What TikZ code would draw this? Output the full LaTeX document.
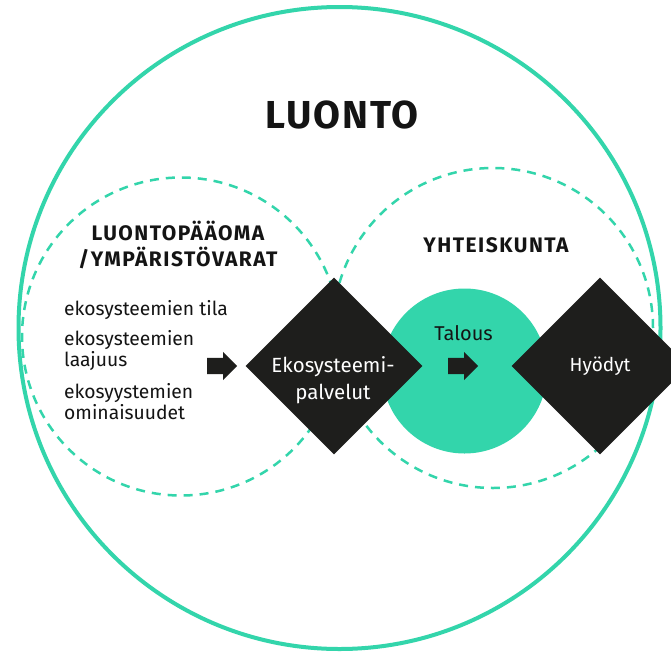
\documentclass[tikz,border=0pt]{standalone}
\usepackage{fontspec}
\setmainfont{Fira Sans}
\newfontfamily\headfont[LetterSpace=5]{Fira Sans}
\newfontfamily\subheadfont[LetterSpace=7]{Fira Sans}
\usetikzlibrary{shapes.geometric,shapes.arrows}
\definecolor{luontogreen}{RGB}{51,213,171}
\definecolor{darkbox}{RGB}{30,30,28}
\definecolor{textdark}{RGB}{20,20,20}
\begin{document}
\begin{tikzpicture}[x=1pt,y=-1pt,
  bigring/.style={circle, draw=luontogreen, line width=4pt, inner sep=0pt, minimum size=642pt},
  dashring/.style={circle, draw=luontogreen, line width=2.5pt, dash pattern=on 9pt off 7pt, inner sep=0pt, minimum size=#1},
  greendisc/.style={circle, fill=luontogreen, inner sep=0pt, minimum size=165pt},
  diam/.style={diamond, fill=darkbox, inner sep=0pt, minimum width=177pt, minimum height=177pt},
  blockarrow/.style={single arrow, fill=darkbox, inner xsep=0pt, inner ysep=8pt, minimum height=30pt, single arrow head extend=6pt},
  bodytext/.style={text=textdark, inner sep=0pt, align=left, font=\fontsize{19.3}{21}\selectfont},
  headtext/.style={text=textdark, inner sep=0pt, align=center, font=\subheadfont\bfseries\fontsize{21}{26}\selectfont},
  whitetext/.style={text=white, inner sep=0pt, align=center, font=\fontsize{20.5}{26.5}\selectfont}]
\useasboundingbox (0,0) rectangle (671,653);
\fill[white] (0,0) rectangle (671,653);
% rings
\node[bigring] (luonto) at (339.5,328) {};
\node[dashring=318pt] (leftring) at (181,336.5) {};
\node[dashring=320pt] (rightring) at (493,328) {};
\node[greendisc] (talous) at (464.5,371) {};
% diamonds
\node[diam] (eko) at (334,366) {};
\node[diam, text=white, font=\fontsize{19}{24}\selectfont] (hyodyt) at (600,366) {Hyödyt};
% arrows
\node[blockarrow, anchor=tail] (arr1) at (207,366) {};
\node[blockarrow, anchor=tail] (arr2) at (448,366) {};
% texts
\node[text=textdark, inner sep=0pt, anchor=base, font=\headfont\bfseries\fontsize{39}{44}\selectfont] (title) at (342,128) {LUONTO};
\node[headtext, anchor=center] (lptitle) at (178,245) {LUONTOPÄÄOMA\\/YMPÄRISTÖVARAT};
\node[headtext, anchor=base] (yhtitle) at (496,252) {YHTEISKUNTA};
\node[bodytext, anchor=north west] (tila) at (64,300.5) {ekosysteemien tila};
\node[bodytext, anchor=north west] (laaj) at (64,330.5) {ekosysteemien\\laajuus};
\node[bodytext, anchor=north west] (omin) at (64,383.5) {ekosyystemien\\ominaisuudet};
\node[whitetext, anchor=north] (ekotext) at (333,356.5) {Ekosysteemi-\\palvelut};
\node[text=textdark, inner sep=0pt, anchor=base, font=\fontsize{20}{24}\selectfont] (taltext) at (463.5,340) {Talous};
\end{tikzpicture}
\end{document}
